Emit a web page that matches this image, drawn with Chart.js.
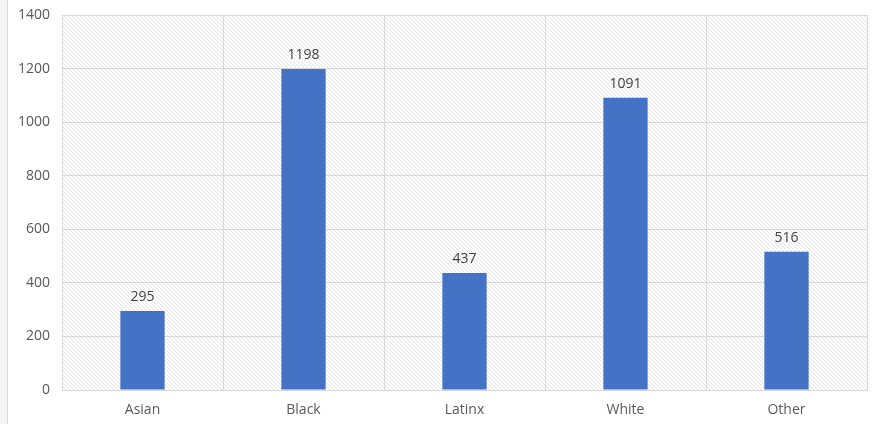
<!DOCTYPE html>
<html>
<head>
<meta charset="utf-8">
<script src="https://cdn.jsdelivr.net/npm/chart.js@4.4.0/dist/chart.umd.min.js"></script>
<style>
  html, body { margin: 0; padding: 0; background: #fff; }
  #wrap { position: relative; width: 881px; height: 424px; }
  #edge { position: absolute; left: 0; top: 0; width: 7px; height: 424px; background: #f3f3f3; border-right: 1px solid #d9d9d9; }
  canvas { position: absolute; left: 0; top: 0; }
</style>
</head>
<body>
<div id="wrap">
  <div id="edge"></div>
  <canvas id="chart" width="881" height="424"></canvas>
</div>
<script>
const categories = ['Asian', 'Black', 'Latinx', 'White', 'Other'];
const counts = [295, 1198, 437, 1091, 516];
const yTicks = [0, 200, 400, 600, 800, 1000, 1200, 1400];

// diagonal hatch used by Excel for the plot area
function makeHatch() {
    const c = document.createElement('canvas');
    c.width = 4;
    c.height = 4;
    const g = c.getContext('2d');
    g.fillStyle = '#e4e4e4';
    for (let i = 0; i < 4; i++) {
        g.fillRect(i, i, 1, 1);
    }
    return g.createPattern(c, 'repeat');
}

const hatchPlugin = {
    id: 'hatch',
    beforeDraw(chart) {
        const a = chart.chartArea;
        const ctx = chart.ctx;
        ctx.save();
        ctx.fillStyle = makeHatch();
        ctx.fillRect(a.left, a.top, a.right - a.left, a.bottom - a.top);
        ctx.restore();
    }
};

const labelPlugin = {
    id: 'barLabels',
    afterDatasetsDraw(chart) {
        const ctx = chart.ctx;
        const meta = chart.getDatasetMeta(0);
        ctx.save();
        ctx.font = '14px "Open Sans", Calibri, sans-serif';
        ctx.fillStyle = '#404040';
        ctx.textAlign = 'center';
        ctx.textBaseline = 'bottom';
        meta.data.forEach((bar, i) => {
            ctx.fillText(String(counts[i]), bar.x, bar.y - 7);
        });
        ctx.restore();
    }
};

new Chart(document.getElementById('chart'), {
    type: 'bar',
    data: {
        labels: categories,
        datasets: [{
            data: counts,
            backgroundColor: '#4472c4',
            borderWidth: 0,
            barPercentage: 0.275,
            categoryPercentage: 1
        }]
    },
    options: {
        responsive: false,
        animation: false,
        layout: { padding: { left: 0, right: 14, top: 15, bottom: 0 } },
        plugins: {
            legend: { display: false },
            tooltip: { enabled: false }
        },
        scales: {
            x: {
                grid: { color: '#d9d9d9', lineWidth: 1, offset: true, drawTicks: false },
                border: { color: '#d9d9d9', width: 1 },
                ticks: {
                    color: '#595959',
                    font: { family: '"Open Sans", Calibri, sans-serif', size: 14 },
                    padding: 12
                },
                afterFit(scale) { scale.height = 34; }
            },
            y: {
                min: 0,
                max: 1400,
                afterBuildTicks(scale) {
                    scale.ticks = yTicks.map(v => ({ value: v }));
                },
                afterFit(scale) {
                    scale.width = 62;
                    scale.paddingTop = 0;
                    scale.paddingBottom = 0;
                },
                grid: { color: '#d9d9d9', lineWidth: 1, drawTicks: false },
                border: { color: '#d9d9d9', width: 1 },
                ticks: {
                    color: '#595959',
                    font: { family: '"Open Sans", Calibri, sans-serif', size: 14, lineHeight: 1 },
                    padding: 12,
                    callback: v => String(v)
                }
            }
        }
    },
    plugins: [hatchPlugin, labelPlugin]
});
</script>
</body>
</html>
